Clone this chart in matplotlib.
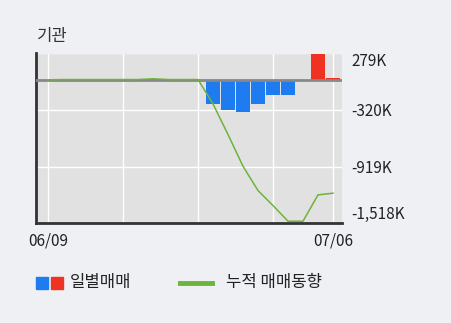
import matplotlib.pyplot as plt

plt.rcParams['font.family'] = ['Noto Sans CJK KR', 'DejaVu Sans']

# data (thousand shares), trading days 06/09 .. 07/06
dates = ['06/09', '06/12', '06/13', '06/14', '06/15', '06/16', '06/19', '06/20',
         '06/21', '06/22', '06/23', '06/26', '06/27', '06/28', '06/29', '06/30',
         '07/03', '07/04', '07/05', '07/06']
daily = [0, 3, 0, 0, 0, 0, 0, 8, -8, 0, 0, -258, -325, -336, -258, -159,
         -166, 0, 279, 18]
tick_vals = [279, -320, -919, -1518]
tick_labels = ['279K', '-320K', '-919K', '-1,518K']
label_idx = [0, 19]
grid_idx = [0, 5, 10, 15, 19]

cum = []
total = 0
for v in daily:
    total += v
    cum.append(total)

x = list(range(len(dates)))

fig = plt.figure(figsize=(4.51, 3.23), dpi=100, facecolor='#eef0f4')
ax = fig.add_axes([36 / 451, 1 - 223 / 323, 306 / 451, 169.5 / 323])
ax.set_facecolor('#e1e1e1')

for i in grid_idx:
    ax.axvline(i, color='white', lw=1, zorder=1)
for t in tick_vals:
    ax.axhline(t, color='white', lw=1, zorder=1)

colors = ['#f03222' if v > 0 else '#1e7cf0' for v in daily]
ax.bar(x, daily, width=0.87, color=colors, zorder=2)
ax.axhline(0, color='#888888', lw=2, zorder=3)
ax.plot(x, cum, color='#6cb43a', lw=1.1, zorder=4)

ax.set_xlim(-0.8, 19.6)
ax.set_ylim(-1518, 279)

ax.yaxis.tick_right()
ax.set_yticks(tick_vals)
ax.set_yticklabels(tick_labels, fontsize=11, color='#222222')
ax.tick_params(axis='y', length=0, pad=7)
ylabels = ax.get_yticklabels()
ylabels[0].set_va('top')
ylabels[-1].set_va('bottom')

ax.set_xticks(label_idx)
ax.set_xticklabels([dates[i] for i in label_idx], fontsize=11, color='#222222')
ax.tick_params(axis='x', length=0, pad=7)

for s in ['top', 'right']:
    ax.spines[s].set_visible(False)
for s in ['left', 'bottom']:
    ax.spines[s].set_color('#333333')
    ax.spines[s].set_linewidth(2)

fig.text(37 / 451, 1 - 37 / 323, '기관', fontsize=12, color='#333333', va='center')

# legend
fig.patches.append(plt.Rectangle((36 / 451, 1 - 289 / 323), 12 / 451, 12 / 323,
                                 transform=fig.transFigure, color='#1e7cf0'))
fig.patches.append(plt.Rectangle((51 / 451, 1 - 289 / 323), 12 / 451, 12 / 323,
                                 transform=fig.transFigure, color='#f03222'))
fig.text(70 / 451, 1 - 283 / 323, '일별매매', fontsize=12, color='#222222', va='center')
fig.add_artist(plt.Line2D([180 / 451, 212 / 451], [1 - 283 / 323, 1 - 283 / 323],
                          transform=fig.transFigure, color='#6cb43a', lw=3.5))
fig.text(226 / 451, 1 - 283 / 323, '누적 매매동향', fontsize=12, color='#222222', va='center')

plt.savefig('out.png', dpi=100, facecolor=fig.get_facecolor())
